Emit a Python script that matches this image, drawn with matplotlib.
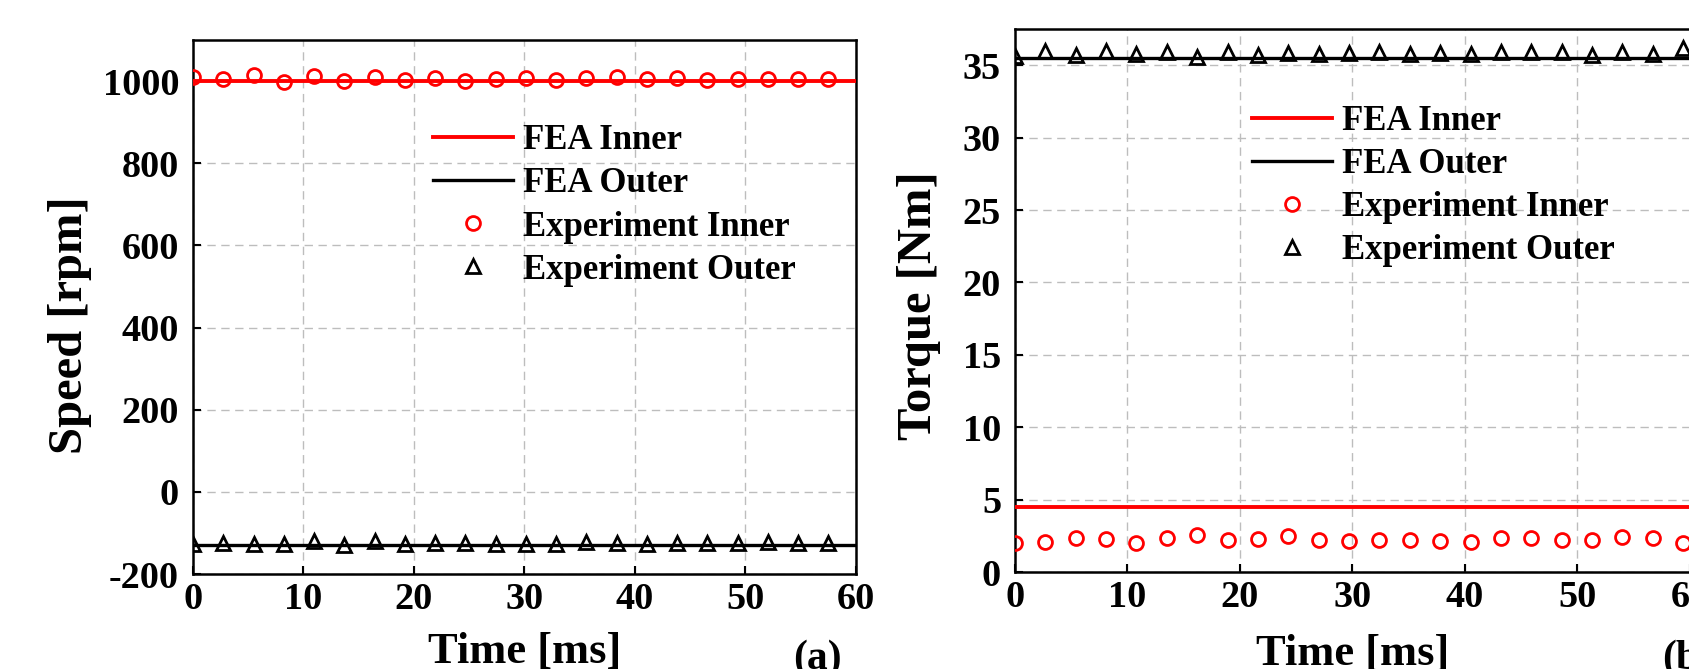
import matplotlib
matplotlib.use("Agg")
from matplotlib import pyplot as plt

plt.rcParams['font.family'] = ['Liberation Serif', 'DejaVu Serif']
plt.rcParams['font.weight'] = 'bold'
plt.rcParams['axes.unicode_minus'] = False

# time axes [ms]
speed_time = [0, 2.74, 5.48, 8.21, 10.95, 13.69, 16.43, 19.17, 21.9, 24.64, 27.38,
              30.12, 32.86, 35.6, 38.33, 41.07, 43.81, 46.55, 49.29, 52.02, 54.76, 57.5]
torque_time = [0, 2.7, 5.4, 8.1, 10.8, 13.5, 16.2, 18.9, 21.6, 24.3, 27.0, 29.7,
               32.4, 35.1, 37.8, 40.5, 43.2, 45.9, 48.6, 51.3, 54.0, 56.7, 59.4]
fea_time = [0, 60]

# (a) speed
fea_speed_inner = [1000, 1000]
fea_speed_outer = [-130, -130]
exp_speed_inner = [1010, 1006, 1015, 998, 1013, 1001, 1011, 1003, 1007, 1001, 1006,
                   1008, 1002, 1008, 1009, 1005, 1008, 1003, 1005, 1005, 1004, 1004]
exp_speed_outer = [-126, -123.5, -128, -128, -120, -130, -118.6, -126.7, -123.5, -123.5, -126,
                   -126, -128, -122, -125, -127, -125, -125, -125, -121, -124, -125]

# (b) torque
fea_torque_inner = [4.5, 4.5]
fea_torque_outer = [35.5, 35.5]
exp_torque_inner = [2.02, 2.08, 2.32, 2.26, 2.02, 2.38, 2.53, 2.2, 2.26, 2.47, 2.23, 2.11,
                    2.2, 2.23, 2.11, 2.08, 2.32, 2.38, 2.23, 2.23, 2.41, 2.32, 1.99]
exp_torque_outer = [35.65, 36.0, 35.7, 36.0, 35.74, 35.94, 35.6, 35.94, 35.7, 35.85, 35.74, 35.85,
                    35.88, 35.74, 35.85, 35.76, 35.88, 35.94, 35.94, 35.7, 35.94, 35.74, 36.16]

labels = ['FEA Inner', 'FEA Outer', 'Experiment Inner', 'Experiment Outer']


def draw_panel(ax, t_exp, fea_in, fea_out, exp_in, exp_out):
	ax.plot(fea_time, fea_in, color='red', lw=2.8, label=labels[0], zorder=3)
	ax.plot(fea_time, fea_out, color='black', lw=2.4, label=labels[1], zorder=3)
	ax.plot(t_exp, exp_in, ls='none', marker='o', ms=10, mew=2, mfc='none', mec='red',
	        label=labels[2], zorder=4)
	ax.plot(t_exp, exp_out, ls='none', marker='^', ms=10.5, mew=2, mfc='none', mec='black',
	        label=labels[3], zorder=4)
	ax.set_xlim(0, 60)
	ax.set_xticks(range(0, 61, 10))
	ax.grid(True, color='#bdbdbd', linestyle=(0, (6, 4)), lw=1.0)
	ax.set_axisbelow(True)
	ax.tick_params(direction='in', length=6, width=1.5, labelsize=27.5)
	ax.tick_params(axis='x', pad=6)
	ax.tick_params(axis='y', pad=10)
	for sp in ax.spines.values():
		sp.set_linewidth(1.8)
	ax.set_xlabel('Time [ms]', fontsize=32, fontweight='bold')
	ax.xaxis.set_label_coords(0.5, -0.108)


def add_legend(ax, x, y):
	ax.legend(loc='upper left', bbox_to_anchor=(x, y), frameon=False, fontsize=25,
	          borderpad=0, borderaxespad=0, handlelength=2.3, handletextpad=0.3,
	          labelspacing=0.29, numpoints=1)


fig = plt.figure(figsize=(16.9, 6.69), dpi=100)

ax1 = fig.add_axes([193 / 1690, 95 / 669, 663 / 1690, 534 / 669])
draw_panel(ax1, speed_time, fea_speed_inner, fea_speed_outer, exp_speed_inner, exp_speed_outer)
ax1.set_ylim(-200, 1100)
ax1.set_yticks(range(-200, 1001, 200))
ax1.set_ylabel('Speed [rpm]', fontsize=35, fontweight='bold')
ax1.yaxis.set_label_coords(-0.152, 0.466)
add_legend(ax1, 0.362, 0.842)

ax2 = fig.add_axes([1015 / 1690, 97 / 669, 675 / 1690, 543 / 669])
draw_panel(ax2, torque_time, fea_torque_inner, fea_torque_outer, exp_torque_inner, exp_torque_outer)
ax2.set_ylim(0, 37.5)
ax2.set_yticks(range(0, 36, 5))
ax2.set_ylabel('Torque [Nm]', fontsize=35, fontweight='bold')
ax2.yaxis.set_label_coords(-0.11, 0.49)
ax2.xaxis.set_label_coords(0.5, -0.115)
add_legend(ax2, 0.351, 0.86)

fig.text(817 / 1690, 29 / 669, '(a)', ha='center', va='top', fontsize=30, fontweight='bold')
fig.text(1662 / 1690, 29 / 669, '(b)', ha='left', va='top', fontsize=30, fontweight='bold')

fig.savefig('out.png', dpi=100)
